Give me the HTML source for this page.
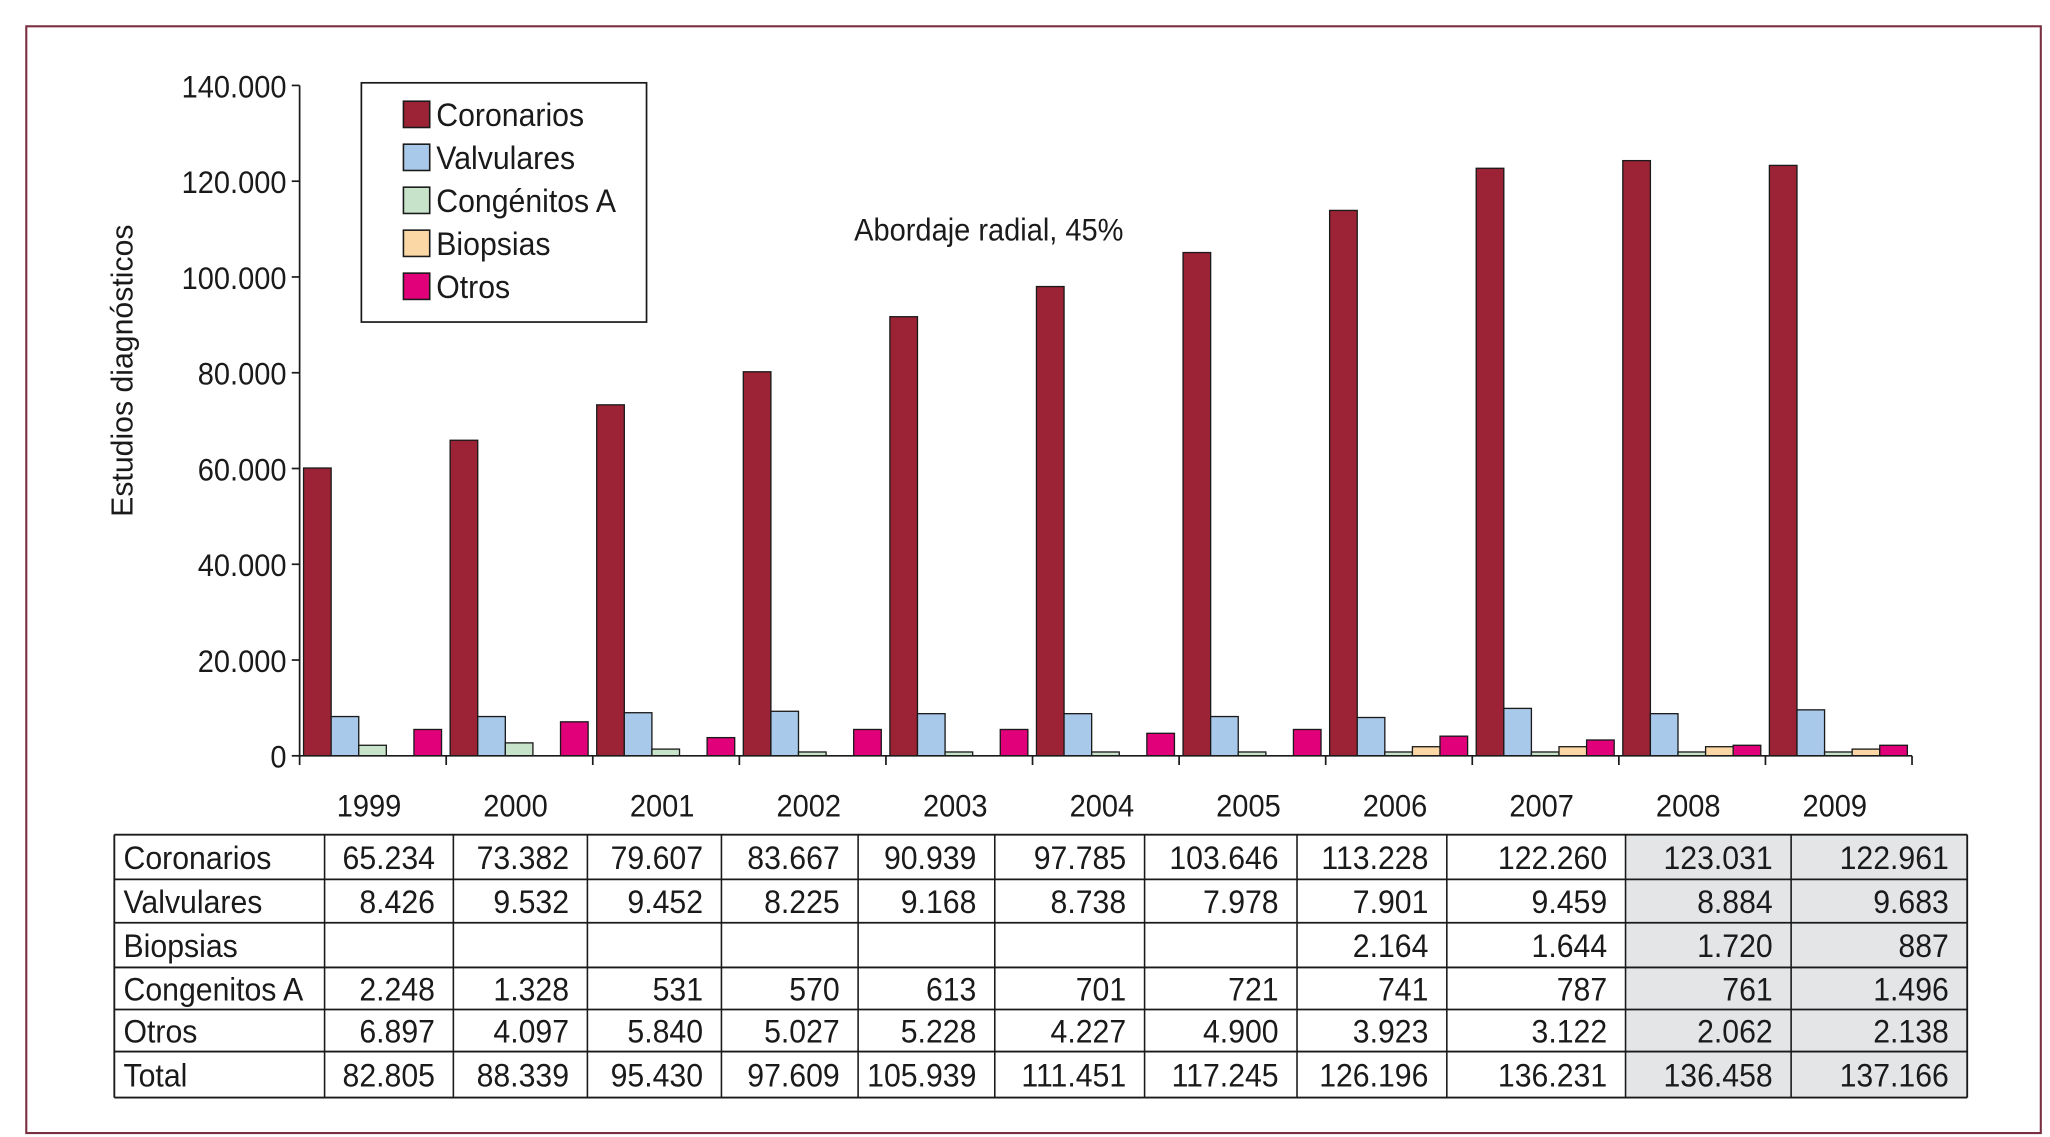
<!DOCTYPE html>
<html><head><meta charset="utf-8"><style>
html,body{margin:0;padding:0;background:#fff;}
svg{display:block;}
text{font-family:"Liberation Sans Narrow","Liberation Sans",sans-serif;fill:#1a1a1a;}
</style></head><body>
<svg id="chart" width="2050" height="1137" viewBox="0 0 1560 865" preserveAspectRatio="none">
<rect x="20" y="20" width="1533" height="842" fill="none" stroke="#7a3040" stroke-width="1.6"/>
<g id="plot"></g>
</svg>
<script>
const years = ["1999","2000","2001","2002","2003","2004","2005","2006","2007","2008","2009"];
const seriesNames = ["Coronarios","Valvulares","Congénitos A","Biopsias","Otros"];
const coronarios = [60100,65900,73300,80200,91700,98000,105100,113900,122700,124300,123300];
const valvulares = [8200,8200,9000,9300,8800,8800,8200,8000,9900,8800,9600];
const congenitos = [2200,2700,1400,800,800,800,800,800,800,800,800];
const biopsias = [0,0,0,0,0,0,0,1900,1900,1900,1400];
const otros = [5500,7100,3800,5500,5500,4700,5500,4100,3300,2200,2200];
const yTicks = [0,20000,40000,60000,80000,100000,120000,140000];
const yTickLabels = ["0","20.000","40.000","60.000","80.000","100.000","120.000","140.000"];
const tableRows = ["Coronarios","Valvulares","Biopsias","Congenitos A","Otros","Total"];
const tCoronarios = ["65.234","73.382","79.607","83.667","90.939","97.785","103.646","113.228","122.260","123.031","122.961"];
const tValvulares = ["8.426","9.532","9.452","8.225","9.168","8.738","7.978","7.901","9.459","8.884","9.683"];
const tBiopsias = ["","","","","","","","2.164","1.644","1.720","887"];
const tCongenitos = ["2.248","1.328","531","570","613","701","721","741","787","761","1.496"];
const tOtros = ["6.897","4.097","5.840","5.027","5.228","4.227","4.900","3.923","3.122","2.062","2.138"];
const tTotal = ["82.805","88.339","95.430","97.609","105.939","111.451","117.245","126.196","136.231","136.458","137.166"];

const NS="http://www.w3.org/2000/svg";
const g=document.getElementById('plot');
function el(tag,attrs,parent){const e=document.createElementNS(NS,tag);for(const k in attrs)e.setAttribute(k,attrs[k]);(parent||g).appendChild(e);return e;}
const SX=0.92;
function narrow(t){const x=+t.getAttribute('x');t.setAttribute('transform','translate('+x+',0) scale('+SX+',1) translate('+(-x)+',0)');}
const X0=228,X1=1455,Y0=575,Y1=65,YMAX=140000;
const y=v=>Y0-(v/YMAX)*(Y0-Y1);
const gw=(X1-X0)/years.length;
const gx=i=>X0+i*gw;
const colors=["#9b2335","#a9c9ea","#c7e3c9","#fcd7a6","#e2007a"];
const allSeries=[coronarios,valvulares,congenitos,biopsias,otros];
const bw=21;

let a=el('line',{x1:X0,y1:Y1,x2:X0,y2:Y0,stroke:'#1a1a1a','stroke-width':1.3});


yTicks.forEach((v,i)=>{
  const t=el('line',{x1:X0-6,y1:y(v),x2:X0,y2:y(v),stroke:'#1a1a1a','stroke-width':1.3});
  
  
  const tx=el('text',{x:X0-10,y:y(v)+9,'text-anchor':'end','font-size':24});
  tx.textContent=yTickLabels[i];
  
  
  narrow(tx);
});
const yt=el('text',{x:0,y:0,'text-anchor':'middle','font-size':23,transform:'translate(101,282) rotate(-90)'});
yt.textContent='Estudios diagnósticos';



years.forEach((yr,i)=>{
  allSeries.forEach((s,k)=>{
    if(s[i]<=0) return;
    const b=el('rect',{x:gx(i)+3+k*bw,y:y(s[i]),width:bw,height:Y0-y(s[i]),fill:colors[k],stroke:'#1a1a1a','stroke-width':1});
    
    
  });
  const lab=el('text',{x:gx(i)+gw/2-3,y:621,'text-anchor':'middle','font-size':24});
  lab.textContent=yr;
  
  
  narrow(lab);
});
a=el('line',{x1:X0,y1:Y0,x2:X1,y2:Y0,stroke:'#1a1a1a','stroke-width':1.3});


for(let i=0;i<=years.length;i++){
  const t=el('line',{x1:gx(i),y1:Y0,x2:gx(i),y2:Y0+7,stroke:'#1a1a1a','stroke-width':1.3});
  
  
}

const lg=el('g',{});


el('rect',{x:275,y:63,width:217,height:182,fill:'#fff',stroke:'#1a1a1a','stroke-width':1.3},lg);
seriesNames.forEach((n,k)=>{
  const cy=87+k*32.7;
  const e=el('g',{},lg);
  
  
  el('rect',{x:307,y:cy-10,width:20,height:20,fill:colors[k],stroke:'#1a1a1a','stroke-width':1.2},e);
  const t=el('text',{x:332,y:cy+9,'font-size':25},e);
  t.textContent=n;
  narrow(t);
});
const ann=el('text',{x:650,y:183,'font-size':24});
ann.textContent='Abordaje radial, 45%';


narrow(ann);

const colB=[87,247,345,447,549,653,757,871,987,1101,1237,1363,1497];
const rowB=[635,669,702,736,768,800,835];
const tdata=[tCoronarios,tValvulares,tBiopsias,tCongenitos,tOtros,tTotal];
const tg=el('g',{});


el('rect',{x:colB[10],y:rowB[0],width:colB[12]-colB[10],height:rowB[6]-rowB[0],fill:'#e4e5e7'},tg);
for(let r=0;r<rowB.length;r++) el('line',{x1:colB[0],y1:rowB[r],x2:colB[12],y2:rowB[r],stroke:'#1a1a1a','stroke-width':1.4},tg);
for(let c=0;c<colB.length;c++) el('line',{x1:colB[c],y1:rowB[0],x2:colB[c],y2:rowB[6],stroke:'#1a1a1a','stroke-width':(c==0||c==12)?1.4:1.2},tg);
tableRows.forEach((rn,r)=>{
  const ty=(rowB[r]+rowB[r+1])/2+9;
  const h=el('text',{x:colB[0]+7,y:ty,'font-size':25},tg);
  h.textContent=rn;
  
  
  narrow(h);
  tdata[r].forEach((v,c)=>{
    if(!v) return;
    const t=el('text',{x:colB[c+2]-14,y:ty,'text-anchor':'end','font-size':25},tg);
    t.textContent=v;
    
    
    narrow(t);
  });
});
</script>
</body></html>
